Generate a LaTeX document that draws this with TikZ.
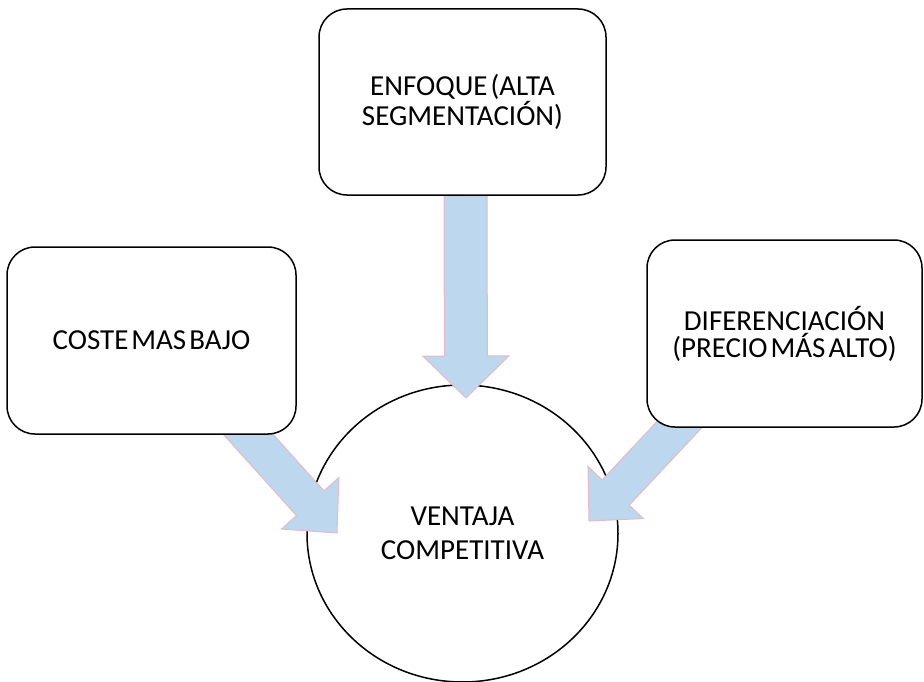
\documentclass[tikz,border=0pt]{standalone}
\usepackage{fontspec}
\setmainfont{Carlito}
\usetikzlibrary{calc,shapes.geometric}
\pgfdeclarelayer{back}
\pgfdeclarelayer{middle}
\pgfsetlayers{back,middle,main}

\definecolor{arrowfill}{RGB}{189,215,238}
\definecolor{arrowedge}{RGB}{228,186,200}

\tikzset{
  strategybox/.style={draw=black, line width=1.5pt, fill=white, rounded corners=28pt,
    align=center, inner sep=0pt,
    font={\fontsize{29}{27}\selectfont\spaceskip=3pt\relax}},
  goalcircle/.style={ellipse, draw=black, line width=1.5pt, fill=white, inner sep=0pt,
    align=center, font={\fontsize{29}{34}\selectfont\spaceskip=3pt\relax}},
  blockarrow/.style={fill=arrowfill, draw=arrowedge, line width=1pt, line join=miter},
}

% block arrow: name, tail, tip, shaft half width, head half width, head length
\newcommand\blockarrow[6]{%
  \coordinate (#1h) at ($(#3)!#6!(#2)$);
  \filldraw[blockarrow]
    ($(#2)!#4!90:(#3)$) -- ($(#1h)!#4!90:(#3)$) -- ($(#1h)!#5!90:(#3)$) -- (#3)
    -- ($(#1h)!#5!-90:(#3)$) -- ($(#1h)!#4!-90:(#3)$) -- ($(#2)!#4!-90:(#3)$) -- cycle;
}

\begin{document}
\begin{tikzpicture}[x=1pt, y=-1pt]
  \useasboundingbox (0,0) rectangle (924,682);

  % strategy boxes
  \node[strategybox, minimum width=287pt, minimum height=186pt] (enfoque) at (462.5,102)
    {ENFOQUE (ALTA\\SEGMENTACIÓN)};
  \node[strategybox, minimum width=289pt, minimum height=187pt] (coste) at (151.5,340.5)
    {COSTE MAS BAJO};
  \node[strategybox, minimum width=275pt, minimum height=187pt] (dif) at (784.5,333.5)
    {DIFERENCIACIÓN\\(PRECIO MÁS ALTO)};

  % competitive advantage
  \begin{pgfonlayer}{back}
    \node[goalcircle, minimum width=311pt, minimum height=297pt] (ventaja) at (462.5,533.5)
      {VENTAJA\\COMPETITIVA};
  \end{pgfonlayer}

  % arrow ends
  \coordinate (topTail) at (enfoque.south -| 465.5,0);
  \coordinate (topTip) at (466,398);
  \coordinate (leftTail) at (229,413);
  \coordinate (leftTip) at (337,533);
  \coordinate (rightTail) at (695,408);
  \coordinate (rightTip) at (589,521);

  \begin{pgfonlayer}{middle}
    \blockarrow{ta}{topTail}{topTip}{21.5pt}{43pt}{42pt}
    \blockarrow{la}{leftTail}{leftTip}{18.5pt}{38.5pt}{40pt}
    \blockarrow{ra}{rightTail}{rightTip}{18.5pt}{38pt}{39pt}
  \end{pgfonlayer}
\end{tikzpicture}
\end{document}
